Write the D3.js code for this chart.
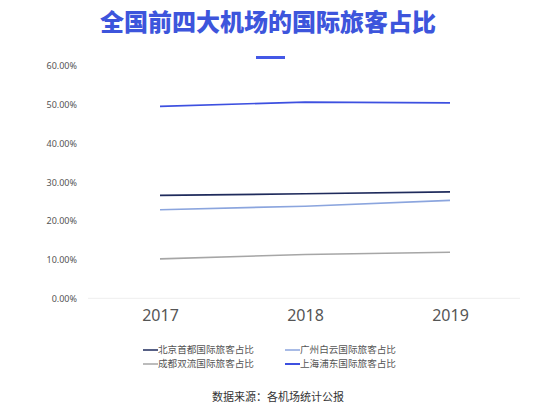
<!DOCTYPE html>
<html>
<head>
<meta charset="utf-8">
<script src="https://cdn.jsdelivr.net/npm/d3@7/dist/d3.min.js"></script>
<style>
  html, body { margin: 0; padding: 0; background: #fff; }
  svg text { font-family: "Noto Sans CJK SC", "Noto Sans", sans-serif; }
</style>
</head>
<body>
<div id="chart"></div>
<script>
// data
var years = ["2017", "2018", "2019"];
var seriesNames = ["北京首都国际旅客占比", "广州白云国际旅客占比", "成都双流国际旅客占比", "上海浦东国际旅客占比"];
var beijing = [26.6, 27.0, 27.5];
var guangzhou = [22.9, 23.8, 25.3];
var chengdu = [10.2, 11.3, 11.9];
var shanghai = [49.6, 50.7, 50.5];
var yTicks = [0, 10, 20, 30, 40, 50, 60];
var colors = ["#1f2b5c", "#8ba5de", "#a6a6a6", "#3d50e0"];

var series = [beijing, guangzhou, chengdu, shanghai];

var width = 553, height = 413;
var svg = d3.select("#chart").append("svg")
    .attr("width", width)
    .attr("height", height);

// title + little bar under it
svg.append("text")
    .attr("x", 268).attr("y", 31)
    .attr("text-anchor", "middle")
    .attr("font-size", 24).attr("font-weight", 900)
    .attr("fill", "#3d55dc")
    .text("全国前四大机场的国际旅客占比");
svg.append("rect")
    .attr("x", 256).attr("y", 56).attr("width", 29).attr("height", 3)
    .attr("fill", "#4458e6");

var x = d3.scalePoint()
    .domain(years)
    .range([160, 450]);

var y = d3.scaleLinear()
    .domain([0, 60])
    .range([298.3, 66.1]);

// baseline only
svg.append("line")
    .attr("x1", 88).attr("x2", 520)
    .attr("y1", y(0)).attr("y2", y(0))
    .attr("stroke", "#eeeeee").attr("stroke-width", 1);

// y axis labels
var yAxis = d3.axisLeft(y)
    .tickValues(yTicks)
    .tickSize(0)
    .tickPadding(0)
    .tickFormat(function(d){ return d.toFixed(2) + "%"; });
var gy = svg.append("g").attr("transform", "translate(77,0)").call(yAxis);
gy.select(".domain").remove();
gy.selectAll("text")
    .attr("font-size", 9).attr("fill", "#555")
    .style("font-family", "'Noto Sans', sans-serif");

// x axis labels
var xAxis = d3.axisBottom(x).tickSize(0).tickPadding(0);
var gx = svg.append("g").attr("transform", "translate(0,310)").call(xAxis);
gx.select(".domain").remove();
gx.selectAll("text")
    .attr("font-size", 16).attr("fill", "#555")
    .style("font-family", "'Noto Sans', sans-serif");

var line = d3.line()
    .x(function(d, i){ return x(years[i]); })
    .y(function(d){ return y(d); });

svg.selectAll(".series")
    .data(series)
    .enter().append("path")
    .attr("class", "series")
    .attr("d", line)
    .attr("fill", "none")
    .attr("stroke", function(d, i){ return colors[i]; })
    .attr("stroke-width", 1.6);

// legend, 2 columns
var legendX = [143, 285];
var legendY = [350, 364];
var lg = svg.selectAll(".legend")
    .data(seriesNames)
    .enter().append("g")
    .attr("class", "legend")
    .attr("transform", function(d, i){
        return "translate(" + legendX[i % 2] + "," + legendY[Math.floor(i / 2)] + ")";
    });
lg.append("line")
    .attr("x1", 0).attr("x2", 15)
    .attr("y1", 0).attr("y2", 0)
    .attr("stroke", function(d, i){ return colors[i]; })
    .attr("stroke-width", function(d, i){ return i == 3 ? 2 : 1.5; });
lg.append("text")
    .attr("x", 15).attr("y", 0)
    .attr("dy", "0.35em")
    .attr("font-size", 9.6).attr("fill", "#555")
    .text(function(d){ return d; });

// source
svg.append("text")
    .attr("x", 278).attr("y", 397)
    .attr("dy", "0.35em")
    .attr("text-anchor", "middle")
    .attr("font-size", 11).attr("fill", "#333")
    .text("数据来源：各机场统计公报");
</script>
</body>
</html>
